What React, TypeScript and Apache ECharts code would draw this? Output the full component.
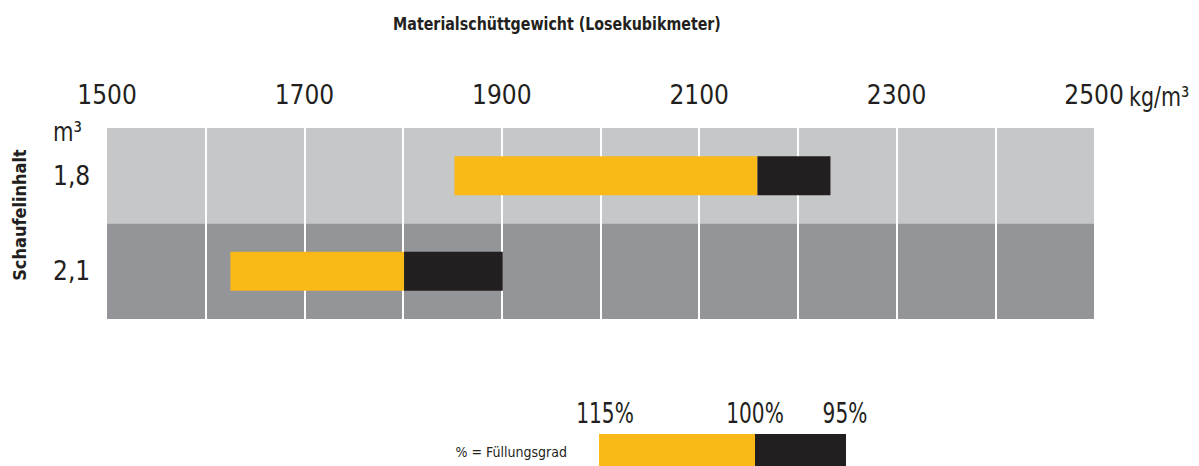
import React, { useEffect, useRef } from "react";
import * as echarts from "echarts";

const categories = ["1,8", "2,1"];
const start115 = [1852, 1625];
const at100 = [2159, 1801];
const at95 = [2233, 1901];
const xTicks = [1500, 1700, 1900, 2100, 2300, 2500];
const legendLabels = ["115%", "100%", "95%"];

const FONT = "'Liberation Sans Narrow', 'DejaVu Sans Condensed', Arial, sans-serif";
const TXT = "#231f20";
const YEL = "#fbb917";
const BLK = "#231f20";

export default function App() {
  const ref = useRef<HTMLDivElement>(null);
  useEffect(() => {
    if (!ref.current) return;
    const chart = echarts.init(ref.current, null, { renderer: "svg" });
    const base = start115;
    const yellow = at100.map((v, i) => v - start115[i]);
    const black = at95.map((v, i) => v - at100[i]);
    const legendX = [605, 755, 845];
    chart.setOption({
      animation: false,
      textStyle: { fontFamily: FONT },
      grid: { left: 107, right: 105, top: 128, bottom: 147 },
      xAxis: {
        type: "value",
        position: "top",
        min: 1500,
        max: 2500,
        interval: 100,
        axisLine: { show: false },
        axisTick: { show: false },
        axisLabel: {
          fontFamily: FONT,
          fontSize: 26,
          color: TXT,
          margin: 20,
          showMinLabel: true,
          showMaxLabel: true,
          formatter: (v: number) => (xTicks.includes(v) ? String(v) : ""),
        },
        splitLine: {
          show: true,
          showMinLine: false,
          showMaxLine: false,
          lineStyle: { color: "#ffffff", width: 2 },
        },
      },
      yAxis: {
        type: "category",
        data: categories,
        inverse: true,
        axisLine: { show: false },
        axisTick: { show: false },
        axisLabel: {
          fontFamily: FONT,
          fontSize: 26,
          color: TXT,
          align: "left",
          margin: 54,
          padding: [0, 0, 6, 0],
        },
        splitLine: { show: false },
        splitArea: { show: true, areaStyle: { color: ["#c6c7c9", "#939598"] } },
      },
      series: [
        {
          type: "bar",
          stack: "s",
          data: base,
          barWidth: 39,
          itemStyle: { color: "transparent" },
          silent: true,
        },
        {
          type: "bar",
          stack: "s",
          data: yellow,
          barWidth: 39,
          itemStyle: { color: YEL },
        },
        {
          type: "bar",
          stack: "s",
          data: black,
          barWidth: 39,
          itemStyle: { color: BLK },
        },
      ],
      graphic: [
        {
          type: "text",
          x: 557,
          y: 24,
          scaleX: 0.88,
          style: {
            text: "Materialschüttgewicht (Losekubikmeter)",
            fontFamily: FONT,
            fontWeight: "bold",
            fontSize: 18,
            fill: TXT,
            align: "center",
            verticalAlign: "middle",
          },
        },
        {
          type: "text",
          x: 1129,
          y: 97,
          scaleX: 0.88,
          style: { text: "kg/m³", fontFamily: FONT, fontSize: 26, fill: TXT, verticalAlign: "middle" },
        },
        {
          type: "text",
          x: 53,
          y: 132,
          scaleX: 0.9,
          style: { text: "m³", fontFamily: FONT, fontSize: 26, fill: TXT, verticalAlign: "middle" },
        },
        {
          type: "text",
          x: 10,
          y: 215,
          rotation: Math.PI / 2,
          style: {
            text: "Schaufelinhalt",
            fontFamily: FONT,
            fontWeight: "bold",
            fontSize: 18,
            fill: TXT,
            align: "center",
            verticalAlign: "top",
          },
        },
        {
          type: "text",
          x: 567,
          y: 452,
          style: {
            text: "% = Füllungsgrad",
            fontFamily: FONT,
            fontSize: 14,
            fill: TXT,
            align: "right",
            verticalAlign: "middle",
          },
        },
        { type: "rect", shape: { x: 599, y: 434, width: 156, height: 32 }, style: { fill: YEL } },
        { type: "rect", shape: { x: 755, y: 434, width: 91, height: 32 }, style: { fill: BLK } },
        ...legendLabels.map((t, i) => ({
          type: "text",
          x: legendX[i],
          y: 413,
          scaleX: 0.8,
          style: { text: t, fontFamily: FONT, fontSize: 28, fill: TXT, align: "center", verticalAlign: "middle" },
        })),
      ],
    });
    return () => chart.dispose();
  }, []);
  return <div ref={ref} style={{ width: 1199, height: 466, position: "absolute", left: 0, top: 0 }} />;
}
